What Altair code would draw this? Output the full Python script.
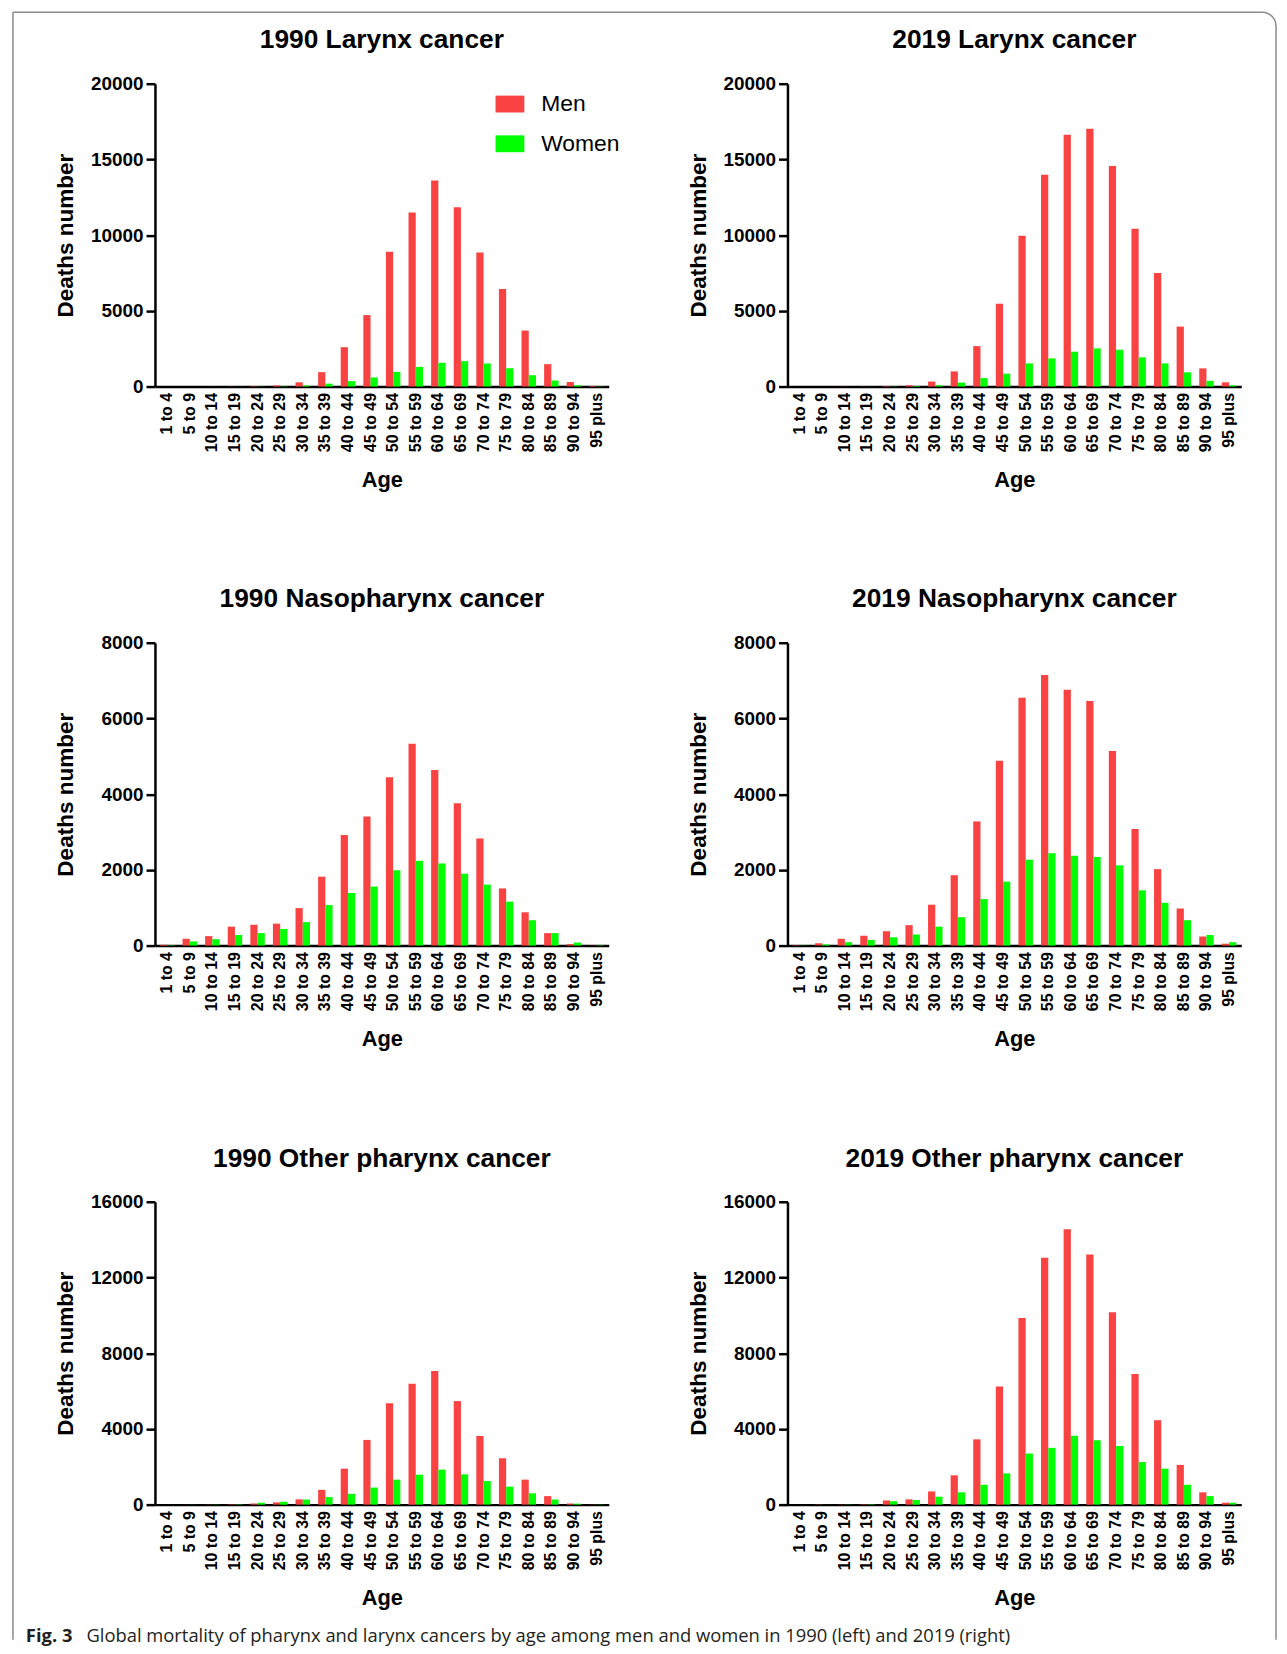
import math
import altair as alt
import pandas as pd

# ---------------- data ----------------
ages = ["1 to 4", "5 to 9", "10 to 14", "15 to 19", "20 to 24", "25 to 29", "30 to 34",
        "35 to 39", "40 to 44", "45 to 49", "50 to 54", "55 to 59", "60 to 64", "65 to 69",
        "70 to 74", "75 to 79", "80 to 84", "85 to 89", "90 to 94", "95 plus"]
sexes = ["Men", "Women"]

larynx_1990_men = [0, 2, 5, 10, 25, 80, 280, 950, 2600, 4720, 8900, 11500, 13600, 11840,
                   8860, 6440, 3700, 1480, 300, 40]
larynx_1990_women = [0, 1, 3, 5, 10, 25, 70, 190, 360, 600, 970, 1300, 1570, 1680,
                     1520, 1210, 750, 400, 80, 15]
larynx_2019_men = [0, 2, 5, 10, 30, 90, 330, 1000, 2670, 5470, 9960, 13980, 16630, 17020,
                   14570, 10420, 7500, 3960, 1200, 280]
larynx_2019_women = [0, 1, 3, 5, 12, 30, 90, 260, 560, 850, 1530, 1860, 2300, 2520,
                     2430, 1930, 1530, 940, 380, 80]
naso_1990_men = [20, 180, 250, 500, 550, 580, 990, 1820, 2920, 3410, 4450, 5330, 4640, 3760,
                 2830, 1510, 880, 330, 40, 5]
naso_1990_women = [10, 110, 170, 280, 330, 440, 620, 1070, 1390, 1560, 1990, 2240, 2170, 1900,
                   1610, 1160, 670, 330, 80, 10]
naso_2019_men = [10, 60, 180, 260, 380, 540, 1080, 1860, 3280, 4880, 6550, 7150, 6760, 6460,
                 5140, 3080, 2020, 980, 240, 50]
naso_2019_women = [5, 30, 90, 150, 220, 290, 500, 750, 1230, 1690, 2270, 2440, 2370, 2340,
                   2120, 1460, 1130, 670, 280, 90]
other_1990_men = [0, 5, 10, 20, 60, 120, 280, 780, 1900, 3420, 5360, 6380, 7060, 5470,
                  3630, 2450, 1320, 450, 60, 10]
other_1990_women = [0, 5, 10, 20, 100, 150, 270, 400, 570, 900, 1320, 1580, 1850, 1600,
                    1250, 950, 600, 270, 50, 10]
other_2019_men = [0, 5, 10, 20, 220, 280, 700, 1550, 3450, 6240, 9860, 13040, 14550, 13220,
                  10160, 6900, 4460, 2100, 650, 100]
other_2019_women = [0, 5, 10, 20, 180, 250, 420, 650, 1050, 1650, 2700, 3000, 3640, 3400,
                    3100, 2250, 1900, 1050, 450, 100]

caption_bold = "Fig. 3"
caption_text = ("Global mortality of pharynx and larynx cancers by age among men and women "
                "in 1990 (left) and 2019 (right)")

# ---------------- style ----------------
RED = "#F94343"
GREEN = "#00FF00"
FONT = "Liberation Sans"
BORDER = "#8A8A8A"
W, H = 457, 305
ROW_GAP, COL_GAP = 258, 180


def make_df(men, women):
    rows = []
    for a, m, w in zip(ages, men, women):
        rows.append({"age": a, "sex": "Men", "deaths": m})
        rows.append({"age": a, "sex": "Women", "deaths": w})
    return pd.DataFrame(rows)


def panel(title, men, women, ymax, step, legend=False):
    df = make_df(men, women)
    if legend:
        leg = alt.Legend(orient="none", legendX=343, legendY=6, title=None,
                         direction="vertical",
                         symbolType="M-1,-0.586L1,-0.586L1,0.586L-1,0.586Z",
                         symbolSize=841, symbolStrokeWidth=0, symbolOpacity=1,
                         labelFont=FONT, labelFontSize=23, labelFontWeight="normal",
                         labelColor="black", labelOffset=17, rowPadding=13)
    else:
        leg = None
    bars = alt.Chart(df).mark_bar().encode(
        x=alt.X("age:N", sort=ages,
                scale=alt.Scale(paddingInner=0.36, paddingOuter=0.22),
                axis=alt.Axis(title="Age", labelAngle=270, ticks=False, labelPadding=6,
                              labelFontSize=16, titleFontSize=22,
                              titleX=W / 2, titleY=94, titleBaseline="middle",
                              titleAlign="center")),
        xOffset=alt.XOffset("sex:N", sort=sexes,
                            scale=alt.Scale(paddingInner=0, paddingOuter=0)),
        y=alt.Y("deaths:Q",
                scale=alt.Scale(domain=[0, ymax], nice=False),
                axis=alt.Axis(title="Deaths number", values=list(range(0, ymax + 1, step)),
                              format="d", labelFontSize=19, labelPadding=3, tickSize=9,
                              titleFontSize=22.7, titleX=-90, titleY=H / 2,
                              titleAngle=270, titleBaseline="middle", titleAlign="center")),
        color=alt.Color("sex:N", scale=alt.Scale(domain=sexes, range=[RED, GREEN]),
                        legend=leg),
    ).properties(
        width=W, height=H,
        title=alt.TitleParams(title, fontSize=26.5, font=FONT, fontWeight="bold",
                              anchor="middle", frame="group", offset=21, color="black"))
    return bars


p1 = panel("1990 Larynx cancer", larynx_1990_men, larynx_1990_women, 20000, 5000, legend=True)
p2 = panel("2019 Larynx cancer", larynx_2019_men, larynx_2019_women, 20000, 5000)
p3 = panel("1990 Nasopharynx cancer", naso_1990_men, naso_1990_women, 8000, 2000)
p4 = panel("2019 Nasopharynx cancer", naso_2019_men, naso_2019_women, 8000, 2000)
p5 = panel("1990 Other pharynx cancer", other_1990_men, other_1990_women, 16000, 4000)
p6 = panel("2019 Other pharynx cancer", other_2019_men, other_2019_women, 16000, 4000)

# ---------------- frame + caption (a 7th, flat cell below the grid) ----------------
deco = pd.DataFrame({"k": [0]})
OY = 3 * (H + ROW_GAP)      # offset of this cell below the first panel
R = 14
BX1, BY1, BX2, BY2 = -143, -72 - OY, 1129, 1567 - OY
CAP_Y = 1563 - OY

frame_caption = alt.layer(
    alt.Chart(deco).mark_rule(color=BORDER, strokeWidth=1.5).encode(
        x=alt.value(BX1), y=alt.value(BY1), y2=alt.value(BY2)),
    alt.Chart(deco).mark_rule(color=BORDER, strokeWidth=1.5).encode(
        x=alt.value(BX1), x2=alt.value(BX2 - R), y=alt.value(BY1)),
    alt.Chart(deco).mark_rule(color=BORDER, strokeWidth=1.5).encode(
        x=alt.value(BX2), y=alt.value(BY1 + R), y2=alt.value(BY2)),
    alt.Chart(deco).mark_arc(theta=0, theta2=math.pi / 2, radius=R, radius2=R,
                             filled=False, stroke=BORDER, strokeWidth=1.5).encode(
        x=alt.value(BX2 - R), y=alt.value(BY1 + R)),
    alt.Chart(deco).mark_text(text=caption_bold, font="Open Sans", fontWeight="bold",
                              fontSize=18.5, align="left", baseline="middle",
                              color="#231F20").encode(x=alt.value(-130), y=alt.value(CAP_Y)),
    alt.Chart(deco).mark_text(text=caption_text, font="Open Sans", fontWeight="normal",
                              fontSize=18.5, align="left", baseline="middle",
                              color="#231F20").encode(x=alt.value(-69), y=alt.value(CAP_Y)),
).properties(width=W, height=1)

chart = alt.concat(p1, p2, p3, p4, p5, p6, frame_caption, columns=2,
                   spacing={"row": ROW_GAP, "column": COL_GAP}, bounds="flush"
                   ).resolve_scale(color="independent").resolve_legend(color="independent"
                   ).properties(padding={"left": 4, "top": -5, "right": 0, "bottom": 0}
                   ).configure_axis(
    domainColor="black", tickColor="black", labelColor="black", titleColor="black",
    labelFont=FONT, titleFont=FONT, labelFontWeight="bold", titleFontWeight="bold",
    grid=False, domainWidth=2.5, tickWidth=2.5
).configure_view(strokeWidth=0).configure_legend(labelFont=FONT)

chart.save("out.html", embed_options={"renderer": "svg", "actions": False})
